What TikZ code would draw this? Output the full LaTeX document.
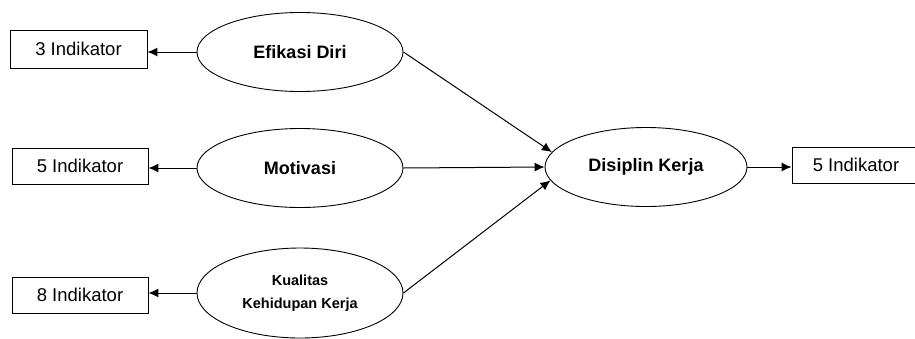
\documentclass[tikz,border=0pt]{standalone}
\usepackage{fontspec}
\setmainfont{Liberation Sans}
\usetikzlibrary{shapes.geometric,arrows.meta}
\begin{document}
\begin{tikzpicture}[x=1pt,y=-1pt,
    var/.style={draw,ellipse,line width=0.9pt,minimum width=206pt,minimum height=79pt,inner sep=0pt,align=center,font=\fontsize{18}{21}\selectfont\bfseries},
    ind/.style={draw,rectangle,line width=0.9pt,minimum width=136pt,minimum height=36pt,inner sep=0pt,font=\fontsize{18.5}{21}\selectfont},
    arr/.style={-{Latex[length=10pt,width=9pt]},line width=1pt}]
    \useasboundingbox (0,0) rectangle (915,338);

    \node[var] (ED) at (300,52) {Efikasi Diri};
    \node[var] (MO) at (300,168) {Motivasi};
    \node[var,minimum height=90pt,font=\fontsize{14.5}{23}\selectfont\bfseries] (KK) at (300,293) {Kualitas\\Kehidupan Kerja};
    \node[var,minimum width=202pt] (DK) at (646,167) {Disiplin Kerja};

    \node[ind,minimum width=137pt,minimum height=38pt] (I1) at (78.5,49) {3 Indikator};
    \node[ind] (I2) at (80,166) {5 Indikator};
    \node[ind] (I3) at (80,295) {8 Indikator};
    \node[ind,minimum width=128pt] (I4) at (856,165) {5 Indikator};

    % indikator
    \draw[arr] (ED.west) -- (ED.west -| I1.east);
    \draw[arr] (MO.west) -- (MO.west -| I2.east);
    \draw[arr] (KK.west) -- (KK.west -| I3.east);
    \draw[arr] (DK.east) -- (DK.east -| I4.west);

    % pengaruh
    \draw[arr] (ED.east) -- (DK.171);
    \draw[arr] (MO.east) -- (DK.west);
    \draw[arr] (KK.east) -- (DK.188);
\end{tikzpicture}
\end{document}
